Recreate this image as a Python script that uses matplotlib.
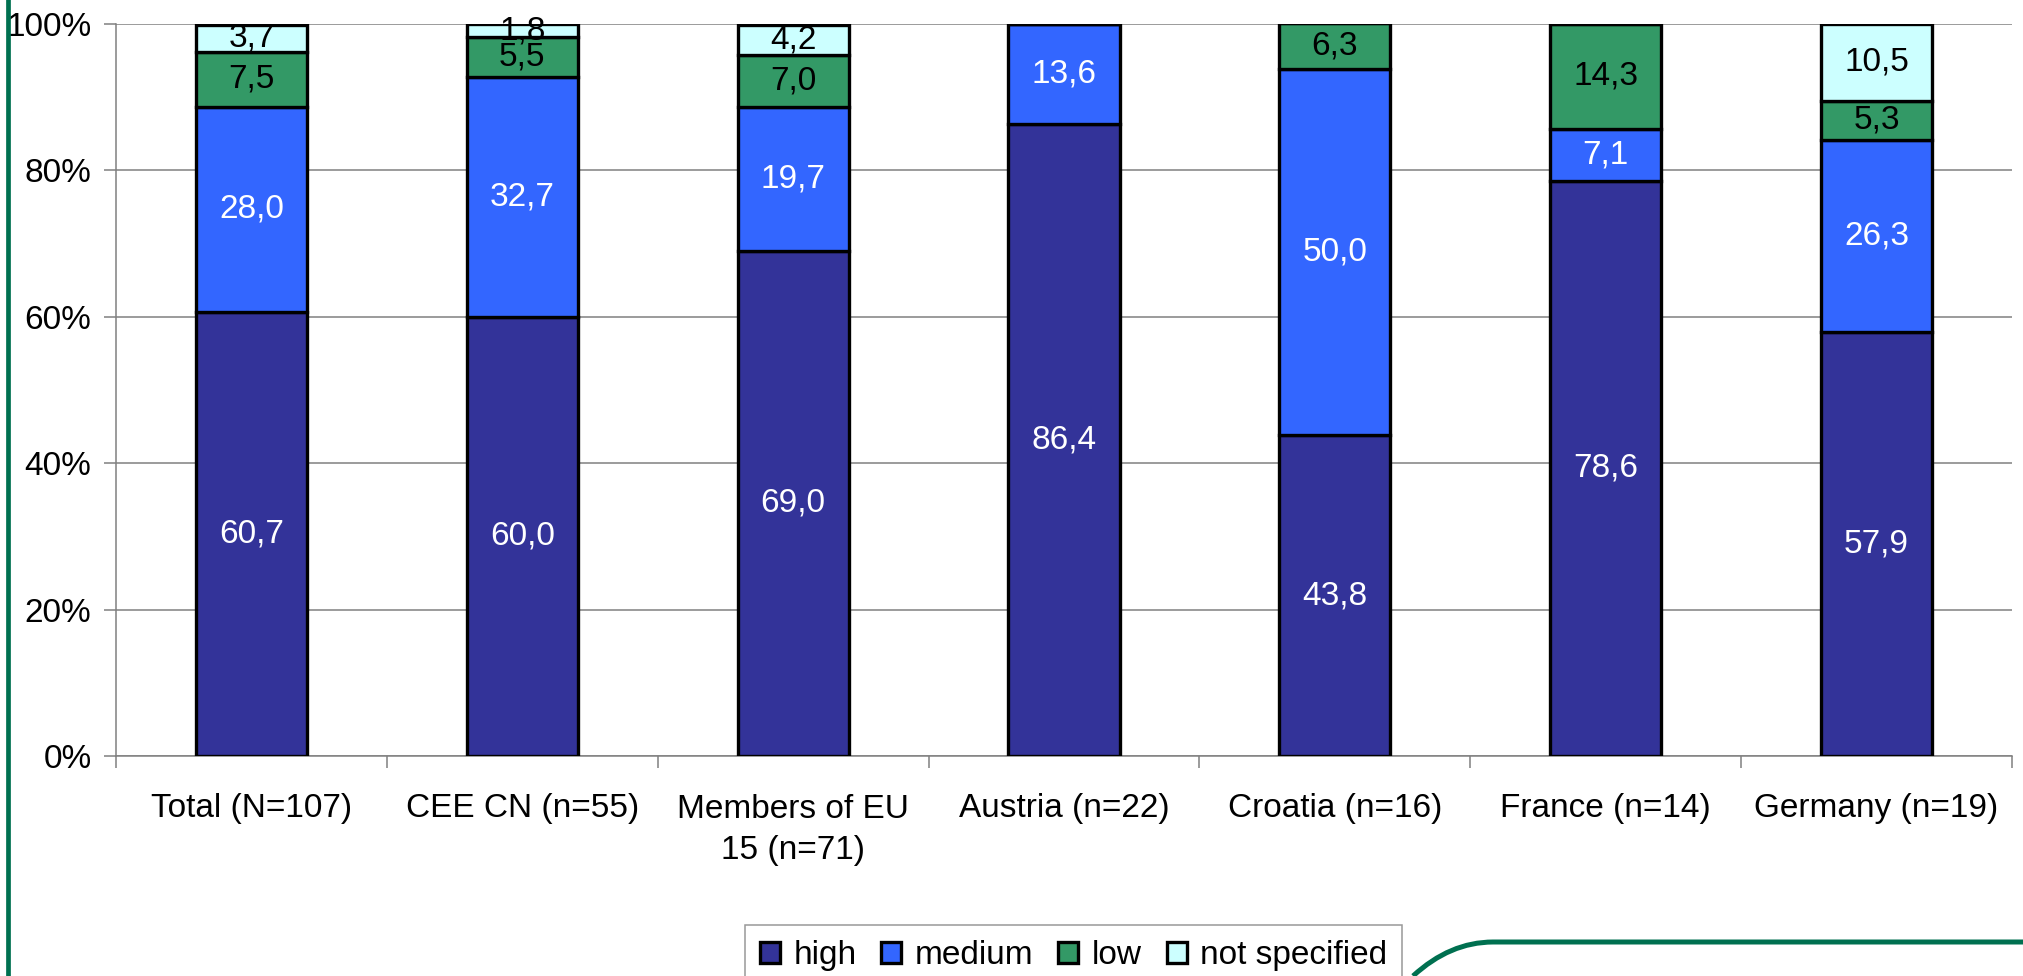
import matplotlib
matplotlib.use("Agg")
import matplotlib.pyplot as plt
import numpy as np
from matplotlib.path import Path
from matplotlib.patches import PathPatch
from matplotlib.lines import Line2D
from matplotlib.ticker import FixedLocator, PercentFormatter

plt.rcParams['font.family'] = ['Liberation Sans', 'DejaVu Sans']

# shares per group, in percent
groups = ["Total (N=107)", "CEE CN (n=55)", "Members of EU\n15 (n=71)",
          "Austria (n=22)", "Croatia (n=16)", "France (n=14)", "Germany (n=19)"]
high = [60.7, 60.0, 69.0, 86.4, 43.8, 78.6, 57.9]
medium = [28.0, 32.7, 19.7, 13.6, 50.0, 7.1, 26.3]
low = [7.5, 5.5, 7.0, 0.0, 6.3, 14.3, 5.3]
not_specified = [3.7, 1.8, 4.2, 0.0, 0.0, 0.0, 10.5]

series = [("high", high, "#333399", "white"),
          ("medium", medium, "#3366FF", "white"),
          ("low", low, "#339966", "black"),
          ("not specified", not_specified, "#CCFFFF", "black")]

W, H = 2024, 976
fig = plt.figure(figsize=(W / 100, H / 100), dpi=100)
ax = fig.add_axes([116 / W, 1 - 756 / H, (2012 - 116) / W, (756 - 24) / H])

x = np.arange(len(groups))
bottom = np.zeros(len(groups))
for name, vals, color, tcolor in series:
    vals = np.array(vals)
    ax.bar(x, vals, 0.41, bottom=bottom, color=color, edgecolor="black",
           linewidth=2.4, label=name, zorder=3)
    for xi, b, v in zip(x, bottom, vals):
        if v > 0:
            ax.text(xi, b + v / 2, f"{v:.1f}".replace(".", ","), ha="center",
                    va="center", color=tcolor, fontsize=24, zorder=4)
    bottom += vals

ax.set_xlim(-0.5, len(groups) - 0.5)
ax.set_ylim(0, 100)
ax.set_yticks(np.arange(0, 101, 20))
ax.yaxis.set_major_formatter(PercentFormatter(decimals=0))
ax.set_xticks(x)
ax.set_xticklabels(groups, fontsize=24, linespacing=1.45)
ax.xaxis.set_minor_locator(FixedLocator(np.arange(-0.5, len(groups), 1)))
ax.tick_params(axis="x", which="major", length=0, pad=27)
ax.tick_params(axis="x", which="minor", length=8.6, width=1.1, color="#808080")
ax.tick_params(axis="y", labelsize=24, length=8.6, width=1.1, color="#808080", pad=9)
ax.grid(axis="y", color="#808080", linewidth=1.1, zorder=0)
for s in ("top", "right"):
    ax.spines[s].set_visible(False)
for s in ("left", "bottom"):
    ax.spines[s].set_color("#808080")
    ax.spines[s].set_linewidth(1.1)

leg = fig.legend(loc="upper left", bbox_to_anchor=(745 / W, 1 - 925 / H), ncol=4,
                 fontsize=24, frameon=True, fancybox=False, edgecolor="#808080",
                 handlelength=0.6, handleheight=0.6, handletextpad=0.4,
                 columnspacing=0.75, borderpad=0.45, borderaxespad=0)
leg.get_frame().set_linewidth(1.1)
for h in leg.legend_handles:
    h.set_linewidth(2.4)

# green frame decoration: left rule and bottom-right swoosh
green = "#007050"
fig.add_artist(Line2D([8 / W, 8 / W], [0, 1], color=green, linewidth=3.4,
                      transform=fig.transFigure))
verts = [(1413 / W, 0), (1450 / W, 34 / H), (1493 / W, 34 / H), (1, 34 / H)]
codes = [Path.MOVETO, Path.CURVE3, Path.CURVE3, Path.LINETO]
fig.add_artist(PathPatch(Path(verts, codes), facecolor="none", edgecolor=green,
                         linewidth=3.6, transform=fig.transFigure))

fig.savefig("out.png", dpi=100)
